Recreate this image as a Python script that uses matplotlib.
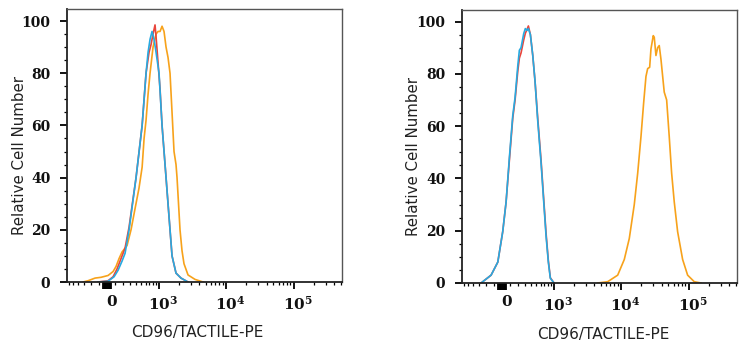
import numpy as np
import matplotlib
import matplotlib.pyplot as plt
from matplotlib.ticker import FixedLocator, FixedFormatter, NullFormatter
from matplotlib.transforms import ScaledTranslation

matplotlib.use('Agg')
plt.rcParams['mathtext.fontset'] = 'dejavuserif'

ASINH_C = 350
RED = '#e8453c'
BLUE = '#27aae1'
ORANGE = '#f7a21b'

# left panel
left_red_x = [-109, 12, 72, 121, 173, 228, 287, 404, 524, 613, 688, 743, 800, 861,
              894, 961, 1033, 1110, 1279, 1471, 1578, 1812, 2153, 2741]
left_red_y = [0, 0.5, 2, 5, 9, 13, 21, 40, 60, 80, 88, 91, 95, 98.5,
              94, 84, 74, 60, 40, 20, 10, 3.4, 1.5, 0]
left_blue_x = [-109, 12, 84, 134, 186, 228, 287, 404, 524, 613, 663, 715, 771, 830,
               894, 996, 1110, 1279, 1471, 1578, 1812, 2153, 2741]
left_blue_y = [0, 0.3, 2, 4.5, 8, 11, 20, 40, 60, 80, 88, 93, 96, 93,
               88, 80, 60, 40, 20, 10, 3.4, 1.5, 0]
left_orange_x = [-318, -242, -147, -72, 12, 72, 109, 147, 186, 214, 257, 318, 385, 460,
                 524, 567, 613, 663, 715, 800, 894, 961, 1033, 1110, 1191, 1279, 1372,
                 1471, 1578, 1691, 1812, 1877, 2081, 2229, 2387, 2741, 3483, 4575]
left_orange_y = [0, 0.5, 1.5, 1.8, 2.5, 4, 6, 9, 11.5, 12.5, 14, 20, 28, 36,
                 44, 55, 62, 72, 80, 90, 95, 96, 96, 98, 96, 90, 86,
                 80, 65, 50, 45, 40, 20, 12, 7, 2.7, 1, 0]

# right panel
right_red_x = [-272, -134, -51, 8, 48, 88, 130, 160, 196, 218, 242, 282, 307, 335,
               357, 392, 436, 481, 537, 613, 680, 743, 809, 871, 996]
right_red_y = [0, 3, 8, 19.7, 31, 47, 63, 70, 81, 86, 88, 93, 95.5, 97,
               98.3, 95, 87, 77, 63, 47, 32, 19, 8.5, 2, 0]
right_blue_x = [-272, -134, -51, 8, 48, 88, 130, 160, 196, 218, 242, 282, 307, 335,
                357, 392, 436, 481, 537, 613, 680, 743, 809, 871, 996]
right_blue_y = [0, 3, 8, 19.7, 31, 48, 64, 71, 83, 89, 90, 95.4, 97.3, 96.6,
                97.3, 95, 87, 77, 62, 46, 31, 18, 8, 1.8, 0]
right_orange_x = [4529, 6370, 8954, 11212, 13288, 15752, 17692, 19790, 21690, 23450,
                  24850, 26600, 27800, 30050, 31090, 32950, 34910, 36850, 39060,
                  43680, 47420, 51780, 56200, 61430, 68920, 81690, 96830, 121300, 152300]
right_orange_y = [0, 0.5, 3, 9, 17, 30, 42, 56, 69, 79,
                  82, 82.5, 89.5, 94.6, 94, 87, 90, 90.8, 85.6,
                  73, 70, 56, 42, 31, 19.6, 9, 3, 0.5, 0]

x_major = [-50, -40, -30, -20, -10, 0, 10, 20, 30, 40, 50, 1e3, 1e4, 1e5]
x_major_labels = [''] * 5 + ['0'] + [''] * 5 + [r'$\mathbf{10^{3}}$', r'$\mathbf{10^{4}}$', r'$\mathbf{10^{5}}$']
x_minor = ([-m * 100 for m in range(1, 10)] + [m * 100 for m in range(1, 10)]
           + [m * 1e3 for m in range(2, 10)] + [m * 1e4 for m in range(2, 10)]
           + [m * 1e5 for m in range(2, 6)])
y_major = [0, 20, 40, 60, 80, 100]


def fwd(x):
    return np.arcsinh(np.asarray(x, dtype=float) / ASINH_C)


def inv(y):
    return ASINH_C * np.sinh(np.asarray(y, dtype=float))


def draw_panel(fig, rect, curves, xlab_pos, ylab_pos):
    ax = fig.add_axes(rect)
    for xs, ys, col in curves:
        ax.plot(xs, ys, color=col, lw=1.2, solid_joinstyle='round')
    ax.set_xscale('function', functions=(fwd, inv))
    ax.set_xlim(-640, 5.2e5)
    ax.set_ylim(0, 104.6)

    ax.xaxis.set_major_locator(FixedLocator(x_major))
    ax.xaxis.set_major_formatter(FixedFormatter(x_major_labels))
    ax.xaxis.set_minor_locator(FixedLocator(x_minor))
    ax.xaxis.set_minor_formatter(NullFormatter())
    ax.yaxis.set_major_locator(FixedLocator(y_major))
    ax.yaxis.set_minor_locator(FixedLocator(list(range(5, 105, 5))))

    ax.tick_params(which='major', direction='out', length=5, width=1.3, color='black')
    ax.tick_params(which='minor', direction='out', length=2.5, width=0.9, color='black')
    ax.tick_params(axis='x', which='major', labelsize=11, pad=4)
    ax.tick_params(axis='y', which='major', labelsize=10, pad=7)
    for lab in ax.get_xticklabels() + ax.get_yticklabels():
        lab.set_family('DejaVu Serif')
        lab.set_fontweight('bold')
        lab.set_color('#111111')
    for lab in ax.get_xticklabels():
        lab.set_transform(lab.get_transform() + ScaledTranslation(4 / 100, 0, fig.dpi_scale_trans))

    for side in ['top', 'right']:
        ax.spines[side].set_color('#555555')
        ax.spines[side].set_linewidth(1.0)
    for side in ['left', 'bottom']:
        ax.spines[side].set_color('#222222')
        ax.spines[side].set_linewidth(1.3)

    ax.set_xlabel('CD96/TACTILE-PE', fontsize=11, va='center', color='#222222')
    ax.xaxis.set_label_coords(xlab_pos, -51 / 273)
    ax.set_ylabel('Relative Cell Number', fontsize=10.8, va='center', color='#222222')
    ax.yaxis.set_label_coords(ylab_pos[0], ylab_pos[1])
    return ax


fig = plt.figure(figsize=(7.49, 3.5), dpi=100)

draw_panel(fig, [67 / 749, 68 / 350, 275 / 749, 273 / 350],
           [(left_orange_x, left_orange_y, ORANGE),
            (left_red_x, left_red_y, RED),
            (left_blue_x, left_blue_y, BLUE)],
           0.4745, (-0.1745, 0.465))

draw_panel(fig, [462 / 749, 67 / 350, 275 / 749, 273.5 / 350],
           [(right_orange_x, right_orange_y, ORANGE),
            (right_red_x, right_red_y, RED),
            (right_blue_x, right_blue_y, BLUE)],
           0.5145, (-0.178, 0.461))

fig.savefig('out.png', dpi=100)
